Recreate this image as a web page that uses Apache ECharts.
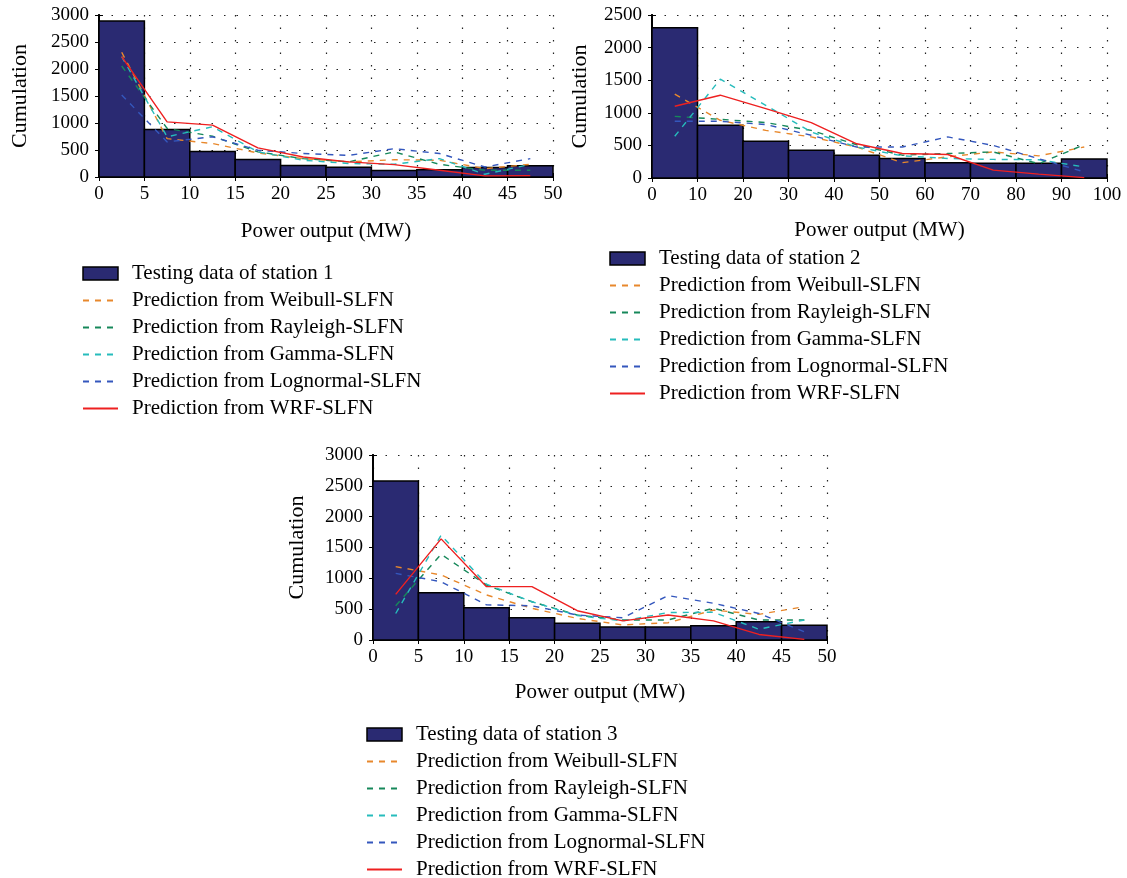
<!DOCTYPE html>
<html>
<head>
<meta charset="utf-8">
<script src="https://cdn.jsdelivr.net/npm/echarts@6/dist/echarts.min.js"></script>
<style>
html,body{margin:0;padding:0;background:#fff;}
#c{width:1127px;height:878px;}
</style>
</head>
<body>
<div id="c"></div>
<script>
// ---------- Data ----------
// Station 1 (0-50 MW, 5 MW bins)
const edges1 = [0, 5, 10, 15, 20, 25, 30, 35, 40, 45, 50];
const mids1 = [2.5, 7.5, 12.5, 17.5, 22.5, 27.5, 32.5, 37.5, 42.5, 47.5];
const test1 = [2890, 880, 470, 325, 215, 180, 120, 135, 175, 210];
const weibull1 = [2310, 710, 620, 445, 340, 280, 320, 310, 155, 235];
const rayleigh1 = [2055, 900, 755, 465, 340, 280, 465, 235, 125, 125];
const gamma1 = [2230, 745, 930, 465, 310, 250, 235, 340, 50, 235];
const lognormal1 = [1520, 650, 745, 495, 435, 400, 525, 435, 185, 340];
const wrf1 = [2230, 1020, 960, 540, 370, 280, 230, 125, 20, 25];

// Station 2 (0-100 MW, 10 MW bins)
const edges2 = [0, 10, 20, 30, 40, 50, 60, 70, 80, 90, 100];
const mids2 = [5, 15, 25, 35, 45, 55, 65, 75, 85, 95];
const test2 = [2305, 810, 565, 425, 350, 300, 235, 225, 225, 290];
const weibull2 = [1285, 885, 730, 630, 475, 235, 325, 400, 340, 475];
const rayleigh2 = [945, 900, 850, 730, 510, 350, 375, 400, 220, 510];
const gamma2 = [640, 1515, 1115, 705, 475, 340, 300, 285, 280, 170];
const lognormal2 = [870, 870, 820, 655, 475, 475, 630, 500, 295, 95];
const wrf2 = [1100, 1270, 1065, 850, 525, 375, 360, 120, 60, 5];

// Station 3 (0-50 MW, 5 MW bins)
const edges3 = [0, 5, 10, 15, 20, 25, 30, 35, 40, 45, 50];
const mids3 = [2.5, 7.5, 12.5, 17.5, 22.5, 27.5, 32.5, 37.5, 42.5, 47.5];
const test3 = [2580, 765, 525, 360, 270, 210, 210, 230, 295, 238];
const weibull3 = [1190, 1055, 730, 515, 350, 245, 280, 485, 415, 540];
const rayleigh3 = [555, 1390, 890, 620, 405, 325, 325, 515, 325, 325];
const gamma3 = [430, 1700, 905, 620, 395, 310, 445, 450, 175, 325];
const lognormal3 = [1080, 945, 570, 555, 405, 360, 720, 595, 430, 135];
const wrf3 = [740, 1640, 865, 865, 475, 310, 405, 310, 90, 10];

// Tick settings
const xMax1 = 50, xStep1 = 5, yMax1 = 3000;
const xMax2 = 100, xStep2 = 10, yMax2 = 2500;
const xMax3 = 50, xStep3 = 5, yMax3 = 3000;
const yStep = 500;

const names = {
  weibull: 'Prediction from Weibull-SLFN',
  rayleigh: 'Prediction from Rayleigh-SLFN',
  gamma: 'Prediction from Gamma-SLFN',
  lognormal: 'Prediction from Lognormal-SLFN',
  wrf: 'Prediction from WRF-SLFN'
};

// ---------- Styles ----------
const FONT = 'Liberation Serif';
const BAR = '#2a2a72';
const COLORS = {
  weibull: '#e8882c',
  rayleigh: '#16885a',
  gamma: '#26bcbc',
  lognormal: '#3457bd',
  wrf: '#ee2020'
};
const DASH = [6, 6];

const grids = [
  {left: 99, top: 15, width: 454, height: 162},
  {left: 652, top: 15, width: 455, height: 163},
  {left: 373, top: 455, width: 454, height: 185}
];

function zip(xs, ys) { return xs.map((x, i) => [x, ys[i]]); }
function bins(edges, vals) { return vals.map((v, i) => [edges[i], edges[i + 1], v]); }

const dotted = {show: true, lineStyle: {color: '#222', width: 1.2, type: [1.5, 11]}};

const xAxes = [], yAxes = [], series = [], legends = [];
const panels = [
  {edges: edges1, mids: mids1, test: test1, w: weibull1, r: rayleigh1, g: gamma1, l: lognormal1, f: wrf1, xMax: xMax1, xStep: xStep1, yMax: yMax1, station: 1, yGap: 68, xGap: 44, legend: {left: 82, top: 263}},
  {edges: edges2, mids: mids2, test: test2, w: weibull2, r: rayleigh2, g: gamma2, l: lognormal2, f: wrf2, xMax: xMax2, xStep: xStep2, yMax: yMax2, station: 2, yGap: 61, xGap: 42, legend: {left: 609, top: 248}},
  {edges: edges3, mids: mids3, test: test3, w: weibull3, r: rayleigh3, g: gamma3, l: lognormal3, f: wrf3, xMax: xMax3, xStep: xStep3, yMax: yMax3, station: 3, yGap: 65, xGap: 42, legend: {left: 366, top: 724}}
];

const plain = v => String(v);

panels.forEach((p, gi) => {
  const xi = xAxes.length, yi = yAxes.length;
  xAxes.push({
    type: 'value', gridIndex: gi, min: 0, max: p.xMax, interval: p.xStep,
    name: 'Power output (MW)', nameLocation: 'middle', nameGap: p.xGap,
    nameTextStyle: {fontFamily: FONT, fontSize: 21, color: '#000'},
    axisLine: {show: true, onZero: false, lineStyle: {color: '#000', width: 2}},
    axisTick: {show: true, inside: true, length: 4, lineStyle: {color: '#000'}},
    axisLabel: {fontFamily: FONT, fontSize: 19, color: '#000', margin: 8, formatter: plain},
    splitLine: dotted
  });
  xAxes.push({
    type: 'value', gridIndex: gi, position: 'top', min: 0, max: p.xMax, interval: p.xStep,
    axisLine: {show: true, lineStyle: {color: '#000', width: 2}},
    axisTick: {show: true, inside: true, length: 4, lineStyle: {color: '#000'}},
    axisLabel: {show: false}, splitLine: {show: false}
  });
  yAxes.push({
    type: 'value', gridIndex: gi, min: 0, max: p.yMax, interval: yStep,
    name: 'Cumulation', nameLocation: 'middle', nameGap: p.yGap, nameRotate: 90,
    nameTextStyle: {fontFamily: FONT, fontSize: 22, color: '#000'},
    axisLine: {show: true, onZero: false, lineStyle: {color: '#000', width: 2}},
    axisTick: {show: true, inside: true, length: 4, lineStyle: {color: '#000'}},
    axisLabel: {fontFamily: FONT, fontSize: 19, color: '#000', margin: 10, formatter: plain},
    splitLine: dotted
  });
  yAxes.push({
    type: 'value', gridIndex: gi, position: 'right', min: 0, max: p.yMax, interval: yStep,
    axisLine: {show: true, lineStyle: {color: '#000', width: 2}},
    axisTick: {show: true, inside: true, length: 4, lineStyle: {color: '#000'}},
    axisLabel: {show: false}, splitLine: {show: false}
  });

  const testName = 'Testing data of station ' + p.station;
  series.push({
    type: 'custom', name: testName, xAxisIndex: xi, yAxisIndex: yi,
    data: bins(p.edges, p.test),
    encode: {x: [0, 1], y: 2},
    itemStyle: {color: BAR, borderColor: '#000', borderWidth: 1.5},
    renderItem: function (params, api) {
      const a = api.coord([api.value(0), api.value(2)]);
      const b = api.coord([api.value(1), 0]);
      return {
        type: 'rect',
        shape: {x: a[0], y: a[1], width: b[0] - a[0], height: b[1] - a[1]},
        style: {fill: BAR, stroke: '#000', lineWidth: 1.5}
      };
    },
    z: 1
  });
  const lines = [['weibull', p.w], ['rayleigh', p.r], ['gamma', p.g], ['lognormal', p.l], ['wrf', p.f]];
  lines.forEach(([k, vals]) => {
    series.push({
      type: 'line', name: names[k], xAxisIndex: xi, yAxisIndex: yi,
      data: zip(p.mids, vals), symbol: 'none', z: 3,
      lineStyle: {color: COLORS[k], width: 1.4, type: k === 'wrf' ? 'solid' : DASH},
      itemStyle: {color: COLORS[k]}
    });
  });

  const legData = [{name: testName, icon: 'rect',
    itemStyle: {color: BAR, borderColor: '#000', borderWidth: 1.5, opacity: 1}}];
  lines.forEach(([k]) => {
    legData.push({name: names[k], itemStyle: {color: 'rgba(0,0,0,0)', borderWidth: 0, opacity: 0}});
  });
  legends.push({
    orient: 'vertical', left: p.legend.left, top: p.legend.top,
    padding: 0, height: 220,
    itemWidth: 35, itemHeight: 13, itemGap: 6,
    selectedMode: false,
    textStyle: {fontFamily: FONT, fontSize: 21, color: '#000', padding: [0, 0, 0, 9]},
    data: legData
  });
});

const chart = echarts.init(document.getElementById('c'), null, {renderer: 'canvas'});
chart.setOption({
  animation: false,
  backgroundColor: '#fff',
  grid: grids,
  xAxis: xAxes,
  yAxis: yAxes,
  legend: legends,
  series: series
});
</script>
</body>
</html>
